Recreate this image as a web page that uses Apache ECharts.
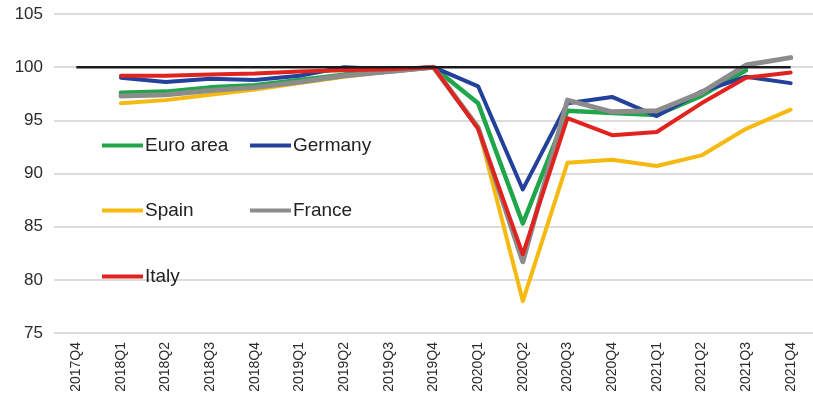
<!DOCTYPE html>
<html>
<head>
<meta charset="utf-8">
<script src="https://cdn.jsdelivr.net/npm/echarts@6/dist/echarts.min.js"></script>
<style>
  html, body { margin: 0; padding: 0; background: #ffffff; }
  #chart { width: 813px; height: 400px; }
</style>
</head>
<body>
<div id="chart"></div>
<script>
// Quarterly index, 2019Q4 = 100
const quarters = ['2017Q4','2018Q1','2018Q2','2018Q3','2018Q4','2019Q1','2019Q2','2019Q3','2019Q4',
                  '2020Q1','2020Q2','2020Q3','2020Q4','2021Q1','2021Q2','2021Q3','2021Q4'];

const euroArea = [null, 97.6, 97.7, 98.1, 98.3, 98.8, 99.3, 99.6, 100, 96.6, 85.3, 95.9, 95.7, 95.5, 97.3, 99.7, null];
const germany  = [null, 99.0, 98.6, 98.9, 98.8, 99.2, 100.0, 99.8, 100, 98.2, 88.5, 96.6, 97.2, 95.4, 97.7, 99.1, 98.5];
const spain    = [null, 96.6, 96.9, 97.4, 97.9, 98.5, 99.1, 99.6, 100, 94.4, 78.0, 91.0, 91.3, 90.7, 91.7, 94.2, 96.0];
const france   = [null, 97.3, 97.4, 97.8, 98.1, 98.6, 99.2, 99.6, 100, 94.3, 81.7, 96.9, 95.8, 95.9, 97.6, 100.2, 100.9];
const italy    = [null, 99.2, 99.2, 99.3, 99.4, 99.6, 99.7, 99.8, 100, 94.2, 82.4, 95.2, 93.6, 93.9, 96.6, 99.0, 99.5];
const baseline = quarters.map(() => 100);

const yTicks = { min: 75, max: 105, step: 5 };

const colors = {
  euro: '#1fa64a',
  germany: '#23409a',
  spain: '#f6b90f',
  france: '#8c8c8c',
  italy: '#e1231f',
  base: '#1a1a1a'
};

const chart = echarts.init(document.getElementById('chart'), null, { renderer: 'canvas' });

function lineSeries(name, data, color, width) {
  return {
    name: name,
    type: 'line',
    data: data,
    symbol: 'none',
    connectNulls: false,
    lineStyle: { color: color, width: width, cap: 'round', join: 'round' },
    itemStyle: { color: color },
    emphasis: { disabled: true },
    animation: false
  };
}

function legendAt(name, left, top) {
  return {
    data: [name],
    left: left,
    top: top,
    icon: 'rect',
    itemWidth: 41,
    itemHeight: 4,
    padding: 0,
    textStyle: {
      fontFamily: 'Liberation Sans, Arial, sans-serif',
      fontSize: 19,
      color: '#222222',
      padding: [0, 0, 0, -3]
    }
  };
}

chart.setOption({
  backgroundColor: '#ffffff',
  animation: false,
  grid: { left: 54, top: 14, width: 762, height: 319, containLabel: false },
  legend: [
    legendAt('Euro area', 102, 136),
    legendAt('Germany', 250, 136),
    legendAt('Spain', 102, 201),
    legendAt('France', 250, 201),
    legendAt('Italy', 102, 267)
  ],
  xAxis: {
    type: 'category',
    data: quarters,
    boundaryGap: true,
    axisLine: { show: false },
    axisTick: { show: false },
    axisLabel: {
      rotate: 90,
      interval: 0,
      margin: 9,
      fontFamily: 'Liberation Sans, Arial, sans-serif',
      fontSize: 14,
      color: '#2b2b2b'
    }
  },
  yAxis: {
    type: 'value',
    min: yTicks.min,
    max: yTicks.max,
    interval: yTicks.step,
    axisLine: { show: false },
    axisTick: { show: false },
    axisLabel: {
      margin: 11,
      fontFamily: 'Liberation Sans, Arial, sans-serif',
      fontSize: 17,
      color: '#2b2b2b'
    },
    splitLine: { lineStyle: { color: '#dcdcdc', width: 2 } }
  },
  series: [
    lineSeries('Spain', spain, colors.spain, 4),
    lineSeries('Euro area', euroArea, colors.euro, 4.5),
    lineSeries('Germany', germany, colors.germany, 4),
    lineSeries('France', france, colors.france, 5),
    lineSeries('Italy', italy, colors.italy, 4),
    {
      name: 'baseline',
      type: 'line',
      data: baseline,
      symbol: 'none',
      lineStyle: { color: colors.base, width: 2.5 },
      itemStyle: { color: colors.base },
      emphasis: { disabled: true },
      animation: false,
      z: 3
    }
  ]
});
</script>
</body>
</html>
